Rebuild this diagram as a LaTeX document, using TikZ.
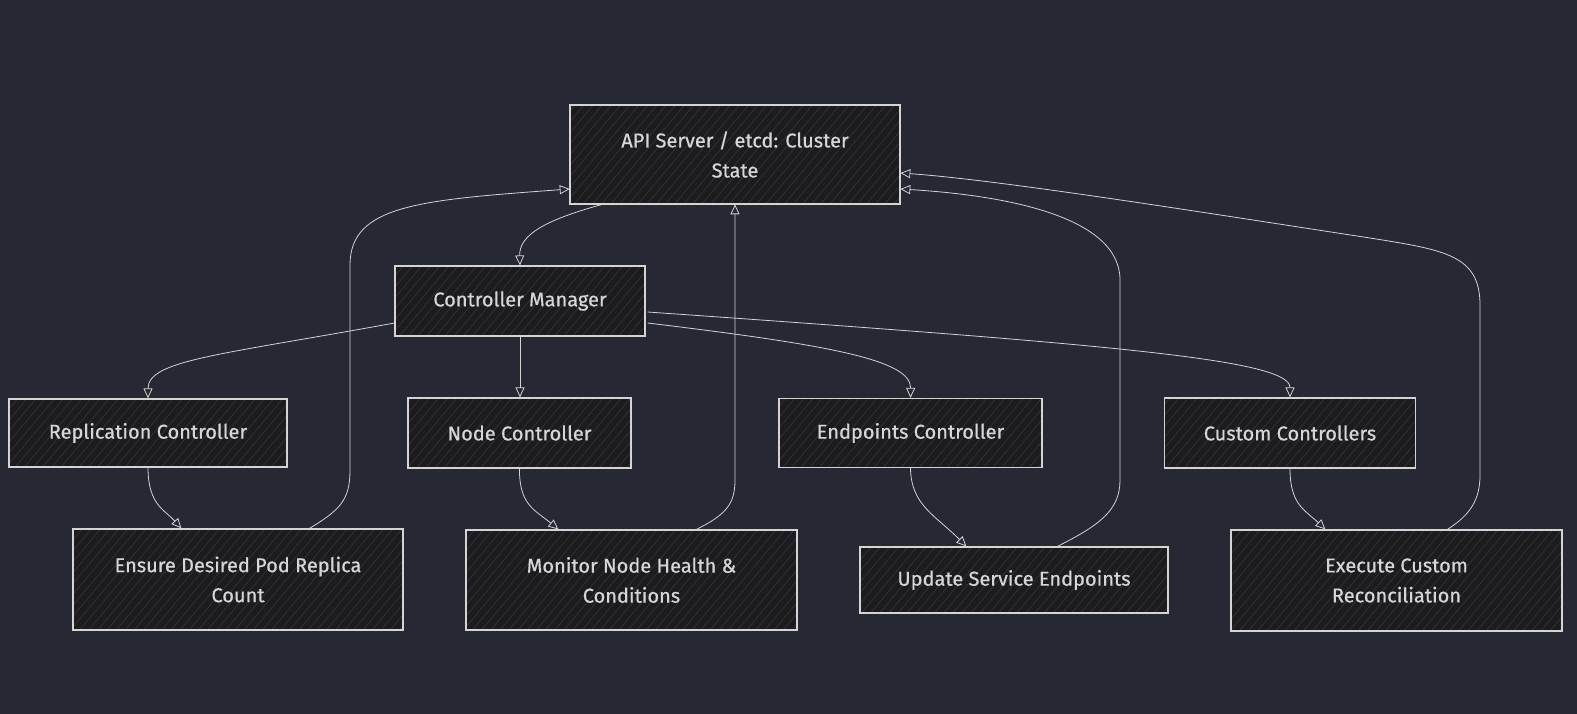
\documentclass[tikz,border=0pt]{standalone}
\usepackage{fontspec}
\setmainfont{Fira Sans}
\newfontfamily\boxfont{Fira Sans}[FakeBold=0.6]
\usetikzlibrary{arrows.meta,patterns.meta}
\definecolor{bgcol}{HTML}{262834}
\definecolor{boxfill}{HTML}{1C1C1E}
\definecolor{hatch}{HTML}{36383F}
\definecolor{edgecol}{HTML}{D4D4D4}
\definecolor{txtcol}{HTML}{D6D6D6}
\tikzset{
  box/.style={draw=edgecol, line width=1.2pt, preaction={fill=boxfill},
    pattern={Lines[angle=50,distance=7pt,line width=0.6pt]}, pattern color=hatch,
    inner sep=0pt, align=center, text=txtcol,
    font=\boxfont\fontsize{20}{30}\selectfont},
  conn/.style={draw=edgecol, line width=0.8pt,
    -{Triangle[open,length=10pt,width=9pt,line width=0.8pt]}},
}
\begin{document}
\begin{tikzpicture}[x=1pt,y=-1pt]
\fill[bgcol] (0,0) rectangle (1577,714);
\useasboundingbox (0,0) rectangle (1577,714);
\node[box, minimum width=330, minimum height=99] (api) at (735,154.5) {API Server / etcd: Cluster\\State};
\node[box, minimum width=250, minimum height=70] (cm) at (520,301) {Controller Manager};
\node[box, minimum width=278, minimum height=68] (rep) at (148,433) {Replication Controller};
\node[box, minimum width=223, minimum height=70] (nc) at (519.5,433) {Node Controller};
\node[box, minimum width=263, minimum height=69] (ep) at (910.5,433) {Endpoints Controller};
\node[box, minimum width=251, minimum height=70] (cc) at (1290,433) {Custom Controllers};
\node[box, minimum width=330, minimum height=101] (ens) at (238,579.5) {Ensure Desired Pod Replica\\Count};
\node[box, minimum width=331, minimum height=100] (mon) at (631.5,580) {Monitor Node Health \&\\Conditions};
\node[box, minimum width=308, minimum height=66] (upd) at (1014,580) {Update Service Endpoints};
\node[box, minimum width=331, minimum height=101] (exe) at (1396.5,580.5) {Execute Custom\\Reconciliation};

% controller manager
\draw[conn] ([shift={(33,0)}]api.south west) .. controls (545,220) and (519,235) .. (cm.north);
\draw[conn] ([shift={(0,22)}]cm.west) .. controls (220,355) and (148,360) .. (rep.north);
\draw[conn] (cm.south) -- (cm.south |- nc.north);
\draw[conn] ([shift={(2,22)}]cm.east) .. controls (830,345) and (911,360) .. (ep.north);
\draw[conn] ([shift={(2,11)}]cm.east) .. controls (1120,345) and (1290,360) .. (cc.north);

% controllers to actions
\draw[conn] (rep.south) .. controls (148,505) and (165,510) .. ([shift={(109,0)}]ens.north west);
\draw[conn] (nc.south) .. controls (519,505) and (535,510) .. ([shift={(93,0)}]mon.north west);
\draw[conn] (ep.south) .. controls (911,505) and (935,515) .. ([shift={(107,0)}]upd.north west);
\draw[conn] (cc.south) .. controls (1290,505) and (1305,510) .. ([shift={(95,0)}]exe.north west);

% actions back to API
\draw[conn] ([shift={(237,0)}]ens.north west) .. controls (340,510) and (350,500) .. (350,470)
  -- (350,265) .. controls (350,205) and (420,200) .. ([shift={(0,34.5)}]api.west);
\draw[conn] ([shift={(231,0)}]mon.north west) .. controls (725,515) and (735,505) .. (735,480) -- (api.south);
\draw[conn] ([shift={(198,0)}]upd.north west) .. controls (1100,525) and (1120,510) .. (1120,480)
  -- (1120,280) .. controls (1120,215) and (1000,195) .. ([shift={(0,34.5)}]api.east);
\draw[conn] ([shift={(217,0)}]exe.north west) .. controls (1470,515) and (1480,500) .. (1480,475)
  -- (1480,305) .. controls (1480,255) and (1445,250) .. (1370,238)
  .. controls (1200,212) and (1000,180) .. ([shift={(0,18.5)}]api.east);
\end{tikzpicture}
\end{document}
